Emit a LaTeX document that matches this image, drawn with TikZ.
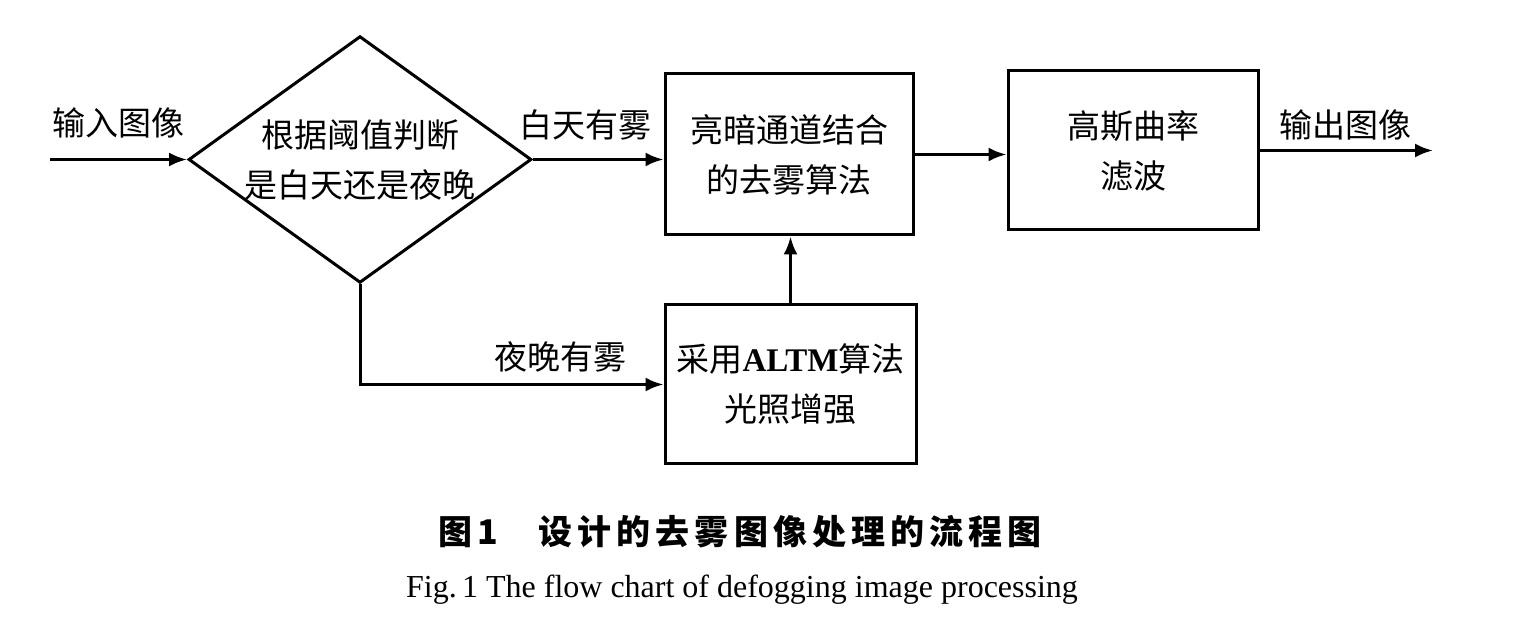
\documentclass[tikz,border=0pt]{standalone}
\usepackage{fontspec}
\setmainfont{Liberation Serif}
\newfontfamily\cjk{Noto Sans CJK SC}
\newfontfamily\cjkcap[LetterSpace=15]{Noto Sans CJK SC}
\usetikzlibrary{shapes.geometric,arrows.meta}
\begin{document}
\begin{tikzpicture}[x=0.5pt,y=-0.5pt,
  line width=1.5pt,
  conn/.style={-{Latex[length=9pt,width=7pt]}},
  procbox/.style={draw,rectangle,inner sep=0pt,align=center,font=\cjk\fontsize{16.5pt}{25pt}\selectfont},
  decide/.style={draw,diamond,aspect=1.39,inner sep=0pt,align=center,minimum width=170pt,minimum height=122.5pt,font=\cjk\fontsize{16.5pt}{25pt}\selectfont},
  lbl/.style={font=\cjk\fontsize{16.5pt}{20pt}\selectfont,inner sep=0pt}]
\useasboundingbox (0,0) rectangle (1519,624);
\node[decide] (dia) at (360,159.5) {根据阈值判断\\是白天还是夜晚};
\node[procbox,minimum width=124pt,minimum height=80.5pt] (b1) at (789,154.5) {亮暗通道结合\\的去雾算法};
\node[procbox,minimum width=125pt,minimum height=79.5pt] (b2) at (1133,150.5) {高斯曲率\\滤波};
\node[procbox,minimum width=125.5pt,minimum height=79.5pt] (b3) at (790.5,384.5) {采用{\rmfamily\bfseries ALTM}算法\\光照增强};
\coordinate (in) at (50,159.5);
\coordinate (out) at (1433,150.5);
\node[lbl] (lin) at (118,123) {输入图像};
\node[lbl] (lday) at (585,125) {白天有雾};
\node[lbl] (lout) at (1345,125) {输出图像};
\node[lbl] (lnight) at (560,357) {夜晚有雾};
\draw[conn] (in) -- (dia.west);
\draw[conn] (dia.east) -- (dia.east -| b1.west);
\draw[conn] (b1.east) -- (b1.east -| b2.west);
\draw[conn] (b2.east) -- (out);
\draw[conn] (dia.south) |- (b3.west);
\draw[conn] (b3.north) -- (b3.north |- b1.south);
\node[font=\cjkcap\bfseries\fontsize{17pt}{20pt}\selectfont,inner sep=0pt] (cap) at (740,532) {图\,1\hspace{20pt}设计的去雾图像处理的流程图};
\node[font=\fontsize{16pt}{18pt}\selectfont,inner sep=0pt] (ecap) at (742,590) {Fig.\,1 The flow chart of defogging image processing};
\end{tikzpicture}
\end{document}
